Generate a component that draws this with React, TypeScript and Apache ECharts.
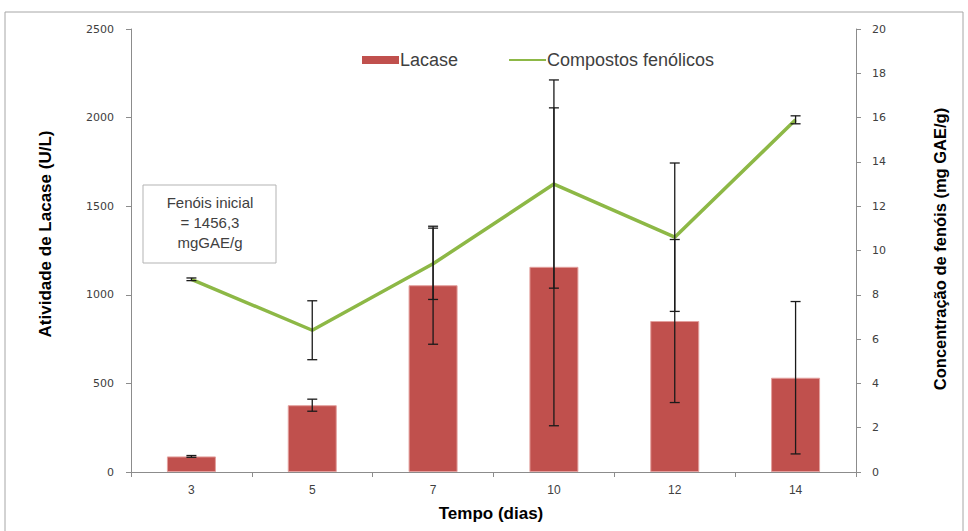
import React, { useEffect, useRef } from "react";
import * as echarts from "echarts";

const categories = ["3", "5", "7", "10", "12", "14"];
const lacase = [88, 377, 1054, 1158, 852, 532];
const lacaseErr = [5, 34, 333, 897, 460, 430];
const fenois = [8.7, 6.4, 9.4, 13.0, 10.6, 15.9];
const fenoisErr = [0.06, 1.33, 1.61, 4.7, 3.35, 0.18];
const boxLines = ["Fenóis inicial", "= 1456,3", "mgGAE/g"];

const TICK_FONT = "'DejaVu Sans', Verdana, sans-serif";
const NARROW = "'Liberation Sans Narrow', 'Liberation Sans', Arial, sans-serif";
const ARIAL = "'Liberation Sans', Arial, sans-serif";

function errRender(params: any, api: any) {
  const x = api.value(0);
  const lo = api.coord([x, api.value(1)]);
  const hi = api.coord([x, api.value(2)]);
  const hw = 5;
  const st = { stroke: "#1a1a1a", lineWidth: 1.3 };
  return {
    type: "group",
    children: [
      { type: "line", shape: { x1: lo[0], y1: lo[1], x2: hi[0], y2: hi[1] }, style: st },
      { type: "line", shape: { x1: lo[0] - hw, y1: lo[1], x2: lo[0] + hw, y2: lo[1] }, style: st },
      { type: "line", shape: { x1: hi[0] - hw, y1: hi[1], x2: hi[0] + hw, y2: hi[1] }, style: st },
    ],
  };
}

export default function App() {
  const ref = useRef<HTMLDivElement>(null);
  useEffect(() => {
    if (!ref.current) return;
    const chart = echarts.init(ref.current, null, { renderer: "svg" });
    const option: any = {
      animation: false,
      backgroundColor: "#ffffff",
      grid: { left: 131, right: 112, top: 29, bottom: 59, containLabel: false },
      legend: {
        left: 362,
        top: 51,
        padding: 0,
        itemWidth: 37,
        itemHeight: 8,
        itemGap: 50,
        textStyle: { fontFamily: ARIAL, fontSize: 18, color: "#404040", padding: [0, 0, 0, -4] },
        data: [
          { name: "Lacase", icon: "rect", itemStyle: { borderWidth: 0 } },
          { name: "Compostos fenólicos", itemStyle: { opacity: 0 } },
        ],
      },
      xAxis: {
        type: "category",
        data: categories,
        boundaryGap: true,
        axisLine: { lineStyle: { color: "#8c8c8c", width: 1 } },
        axisTick: { show: true, length: 5, alignWithLabel: false, lineStyle: { color: "#8c8c8c" } },
        axisLabel: { margin: 12, fontFamily: NARROW, fontSize: 12, color: "#404040" },
        splitLine: { show: false },
      },
      yAxis: [
        {
          type: "value",
          min: 0,
          max: 2500,
          interval: 500,
          position: "left",
          axisLine: { show: true, lineStyle: { color: "#8c8c8c" } },
          axisTick: { show: true, length: 5, lineStyle: { color: "#8c8c8c" } },
          axisLabel: {
            margin: 17,
            fontFamily: TICK_FONT,
            fontSize: 11,
            color: "#404040",
            formatter: (v: number) => String(v),
          },
          splitLine: { show: false },
        },
        {
          type: "value",
          min: 0,
          max: 20,
          interval: 2,
          position: "right",
          axisLine: { show: true, lineStyle: { color: "#8c8c8c" } },
          axisTick: { show: true, length: 5, lineStyle: { color: "#8c8c8c" } },
          axisLabel: {
            margin: 16,
            fontFamily: TICK_FONT,
            fontSize: 11,
            color: "#404040",
            formatter: (v: number) => String(v),
          },
          splitLine: { show: false },
        },
      ],
      series: [
        {
          name: "Lacase",
          type: "bar",
          yAxisIndex: 0,
          data: lacase,
          barWidth: 49,
          itemStyle: { color: "#C0504D", borderColor: "#e3a09e", borderWidth: 1 },
          z: 2,
        },
        {
          name: "Compostos fenólicos",
          type: "line",
          yAxisIndex: 1,
          data: fenois,
          symbol: "none",
          lineStyle: { color: "#8DB846", width: 3.5 },
          itemStyle: { color: "#8DB846" },
          z: 3,
        },
        {
          name: "errLacase",
          type: "custom",
          yAxisIndex: 0,
          renderItem: errRender,
          data: categories.map((c, i) => [i, lacase[i] - lacaseErr[i], lacase[i] + lacaseErr[i]]),
          encode: { x: 0, y: [1, 2] },
          z: 4,
          silent: true,
        },
        {
          name: "errFenois",
          type: "custom",
          yAxisIndex: 1,
          renderItem: errRender,
          data: categories.map((c, i) => [i, fenois[i] - fenoisErr[i], fenois[i] + fenoisErr[i]]),
          encode: { x: 0, y: [1, 2] },
          z: 4,
          silent: true,
        },
      ],
      graphic: [
        {
          type: "rect",
          shape: { x: 5, y: 12, width: 958, height: 530 },
          style: { fill: "none", stroke: "#a6a6a6", lineWidth: 1 },
          silent: true,
          z: -1,
        },
        {
          type: "rect",
          shape: { x: 143, y: 185, width: 133, height: 78 },
          style: { fill: "#ffffff", stroke: "#b3b3b3", lineWidth: 1 },
          z: 10,
        },
        ...boxLines.map((t, i) => ({
          type: "text",
          x: 210,
          y: 202 + i * 20,
          z: 11,
          style: {
            text: t,
            align: "center",
            verticalAlign: "middle",
            fontFamily: ARIAL,
            fontSize: 15,
            fill: "#404040",
          },
        })),
        {
          type: "text",
          x: 45,
          y: 234,
          rotation: Math.PI / 2,
          style: {
            text: "Atividade de Lacase (U/L)",
            align: "center",
            verticalAlign: "middle",
            fontFamily: NARROW,
            fontWeight: "bold",
            fontSize: 17,
            fill: "#000000",
          },
        },
        {
          type: "text",
          x: 940,
          y: 249,
          rotation: Math.PI / 2,
          style: {
            text: "Concentração de fenóis (mg GAE/g)",
            align: "center",
            verticalAlign: "middle",
            fontFamily: NARROW,
            fontWeight: "bold",
            fontSize: 16.5,
            fill: "#000000",
          },
        },
        {
          type: "text",
          x: 491,
          y: 513,
          style: {
            text: "Tempo (dias)",
            align: "center",
            verticalAlign: "middle",
            fontFamily: NARROW,
            fontWeight: "bold",
            fontSize: 17,
            fill: "#000000",
          },
        },
      ],
    };
    chart.setOption(option);
    return () => chart.dispose();
  }, []);
  return (
    <div
      ref={ref}
      style={{ position: "fixed", left: 0, top: 0, width: 968, height: 531 }}
    />
  );
}
